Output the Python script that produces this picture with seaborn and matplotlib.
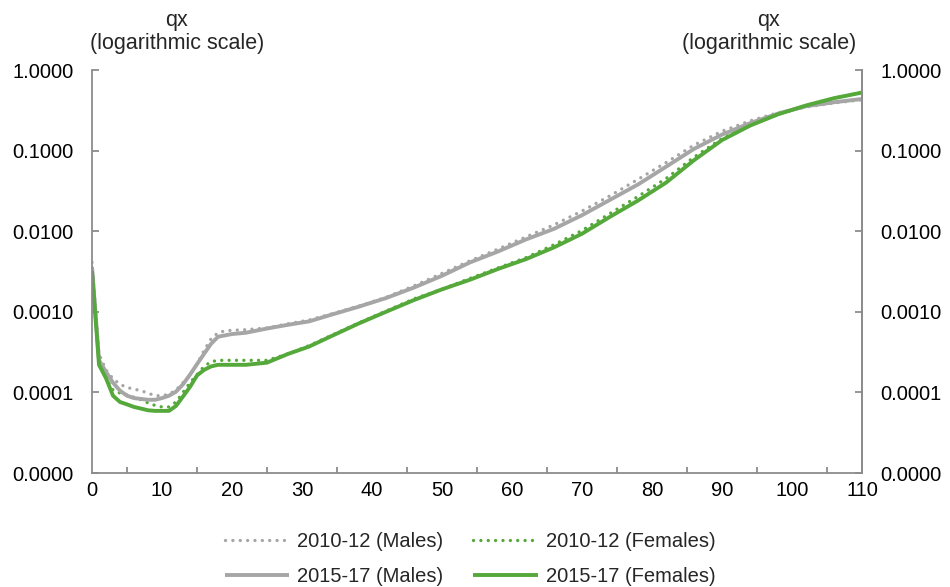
import numpy as np
import pandas as pd
import matplotlib
matplotlib.use("Agg")
import matplotlib.pyplot as plt
import seaborn as sns
from matplotlib.ticker import FixedLocator, FuncFormatter, MultipleLocator

# Mortality rates (qx) by age
ages = [0, 1, 2, 3, 4, 5, 6, 7, 8, 9, 10, 11, 12, 13, 14, 15, 16, 17, 18, 19, 20,
        22, 25, 28, 31, 34, 38, 42, 46, 50, 54, 58, 62, 66, 70, 74, 78, 82, 86,
        90, 94, 98, 102, 106, 110]

males_2010_12 = [0.0041, 0.00030, 0.00019, 0.000148, 0.000126, 0.000115, 0.000110,
                 0.000105, 0.000098, 0.000091, 0.000091, 0.000095, 0.000107,
                 0.000132, 0.000162, 0.000224, 0.00033, 0.00046, 0.00055, 0.00058,
                 0.00059, 0.00060, 0.00063, 0.00071, 0.00079, 0.00093, 0.00117,
                 0.00151, 0.0021, 0.0030, 0.0043, 0.0060, 0.0085, 0.0120, 0.0178,
                 0.0275, 0.044, 0.071, 0.117, 0.174, 0.234, 0.295, 0.347, 0.389,
                 0.427]

females_2010_12 = [0.0035, 0.00024, 0.00015, 0.000107, 0.000098, 0.000093, 0.000087,
                   0.000081, 0.000074, 0.000069, 0.000066, 0.000066, 0.000076,
                   0.000100, 0.000132, 0.000166, 0.00021, 0.00024, 0.00025, 0.00025,
                   0.00025, 0.00025, 0.00025, 0.00030, 0.00038, 0.00050, 0.00072,
                   0.00102, 0.00145, 0.0019, 0.0026, 0.0035, 0.0047, 0.0068, 0.0102,
                   0.0166, 0.027, 0.045, 0.083, 0.141, 0.209, 0.282, 0.363, 0.447,
                   0.525]

males_2015_17 = [0.0036, 0.00025, 0.00018, 0.000132, 0.000105, 0.000091, 0.000085,
                 0.000083, 0.000081, 0.000081, 0.000085, 0.000091, 0.000102,
                 0.000126, 0.000166, 0.000224, 0.00030, 0.00040, 0.00049, 0.00051,
                 0.00053, 0.00055, 0.00062, 0.00069, 0.00076, 0.00091, 0.00115,
                 0.00148, 0.0020, 0.0028, 0.0041, 0.0056, 0.0079, 0.0107, 0.0158,
                 0.0245, 0.038, 0.063, 0.105, 0.158, 0.219, 0.288, 0.355, 0.398,
                 0.437]

females_2015_17 = [0.0032, 0.00022, 0.00015, 0.000091, 0.000076, 0.000071, 0.000066,
                   0.000063, 0.000060, 0.000059, 0.000059, 0.000059, 0.000068,
                   0.000089, 0.000117, 0.000162, 0.00019, 0.00021, 0.00022, 0.00022,
                   0.00022, 0.00022, 0.000234, 0.00030, 0.00037, 0.00049, 0.00071,
                   0.0010, 0.0014, 0.0019, 0.0025, 0.0034, 0.0045, 0.0063, 0.0093,
                   0.0151, 0.024, 0.040, 0.076, 0.135, 0.204, 0.282, 0.363, 0.447,
                   0.525]

series_labels = ["2010-12 (Males)", "2010-12 (Females)",
                 "2015-17 (Males)", "2015-17 (Females)"]

y_ticks = [1e-5, 1e-4, 1e-3, 1e-2, 1e-1, 1.0]
x_ticks = list(range(0, 111, 10))

df = pd.DataFrame({
    "age": ages * 4,
    "qx": males_2010_12 + females_2010_12 + males_2015_17 + females_2015_17,
    "series": np.repeat(series_labels, len(ages)),
})

GREY = "#A6A6A6"
GREEN = "#55A83A"
AXIS = "#8C8C8C"
FS = 14.5

sns.set_theme(style="white")
plt.rcParams["font.family"] = ["Liberation Sans", "DejaVu Sans"]
plt.rcParams["font.size"] = FS

fig = plt.figure(figsize=(9.5, 5.87), dpi=100)
ax = fig.add_axes([92 / 950, 1 - 473 / 587, 770 / 950, 403 / 587])

dotted = {"2010-12 (Males)", "2010-12 (Females)"}
colors = {
    "2010-12 (Males)": GREY,
    "2010-12 (Females)": GREEN,
    "2015-17 (Males)": GREY,
    "2015-17 (Females)": GREEN,
}

handles = {}
for name in series_labels:
    sub = df[df["series"] == name]
    sns.lineplot(data=sub, x="age", y="qx", ax=ax, color=colors[name], lw=2.4,
                 label=name, legend=False)
    line = ax.get_lines()[-1]
    if name in dotted:
        line.set_linewidth(2.4)
        line.set_dashes((0.01, 2.2))
        line.set_dash_capstyle("round")
    else:
        line.set_linewidth(2.8)
        line.set_solid_capstyle("butt")
        line.set_solid_joinstyle("round")
    handles[name] = line

ax.set_yscale("log")
ax.set_ylim(1e-5, 1.0)
ax.set_xlim(0, 110)

fmt = FuncFormatter(lambda v, p: f"{v:.4f}")
ax.yaxis.set_major_locator(FixedLocator(y_ticks))
ax.yaxis.set_minor_locator(FixedLocator([]))
ax.yaxis.set_major_formatter(fmt)
ax.xaxis.set_major_locator(FixedLocator(x_ticks))
ax.xaxis.set_minor_locator(MultipleLocator(5))

ax.spines["top"].set_visible(False)
for s in ["left", "right", "bottom"]:
    ax.spines[s].set_color(AXIS)
    ax.spines[s].set_linewidth(1.3)

ax.tick_params(axis="y", which="major", direction="in", length=5, width=1.3,
               color=AXIS, pad=13, labelsize=FS, labelcolor="black")
ax.tick_params(axis="x", which="major", direction="in", length=5, width=1.3,
               color=AXIS, pad=6, labelsize=FS, labelcolor="black")
ax.tick_params(axis="x", which="minor", direction="in", length=4, width=1.3,
               color=AXIS, bottom=True)
ax.set_xlabel("")
ax.set_ylabel("")

ax2 = ax.twinx()
ax2.set_yscale("log")
ax2.set_ylim(1e-5, 1.0)
ax2.yaxis.set_major_locator(FixedLocator(y_ticks))
ax2.yaxis.set_minor_locator(FixedLocator([]))
ax2.yaxis.set_major_formatter(fmt)
for s in ["top", "left", "bottom"]:
    ax2.spines[s].set_visible(False)
ax2.spines["right"].set_color(AXIS)
ax2.spines["right"].set_linewidth(1.3)
ax2.tick_params(axis="y", which="major", direction="in", length=5, width=1.3,
                color=AXIS, pad=13, labelsize=FS, labelcolor="black")

# Axis titles above each vertical axis
for xc in (177, 769):
    fig.text(xc / 950, 1 - 32 / 587, "qx\n(logarithmic scale)", ha="center",
             va="center", fontsize=15.5, linespacing=1.1)

order = ["2010-12 (Males)", "2015-17 (Males)",
         "2010-12 (Females)", "2015-17 (Females)"]
fig.legend([handles[n] for n in order], order, loc="center", ncol=2,
           bbox_to_anchor=(470 / 950, 1 - 559 / 587), frameon=False,
           fontsize=FS, handlelength=3.2, handletextpad=0.4,
           columnspacing=1.5, labelspacing=0.75)

fig.savefig("out.png", dpi=100)
